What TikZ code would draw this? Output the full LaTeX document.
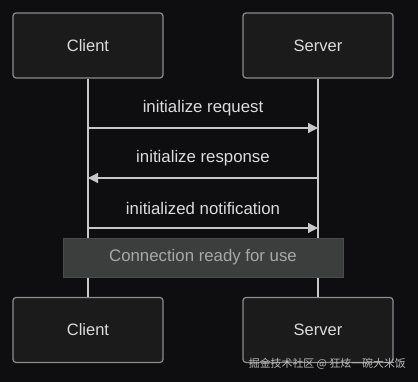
\documentclass[tikz,border=0pt]{standalone}
\usepackage{fontspec}
\setmainfont{Liberation Sans}
\newfontfamily\cjkfont{Noto Sans CJK SC}
\usetikzlibrary{arrows.meta}
\definecolor{bg}{HTML}{0E0E10}
\definecolor{boxfill}{HTML}{1B1B1C}
\definecolor{boxline}{HTML}{8C8C8C}
\definecolor{txt}{HTML}{DCDCDC}
\definecolor{lifel}{HTML}{C8C8C8}
\definecolor{notefill}{HTML}{3C3E3E}
\definecolor{noteline}{HTML}{4A4C4C}
\definecolor{notetxt}{HTML}{A8A8A8}
\tikzset{
  actor/.style={draw=boxline, fill=boxfill, line width=1.2pt, rounded corners=3pt,
    minimum width=150pt, minimum height=65pt, text=txt, font=\fontsize{16.5}{20}\selectfont, inner sep=0pt},
  lifeline/.style={draw=lifel, line width=1.3pt},
  msg/.style={draw=lifel, line width=1.3pt, -{Triangle[length=10pt,width=10pt]}},
  msglabel/.style={text=txt, font=\fontsize{16.8}{20}\selectfont, inner sep=0pt},
  notebox/.style={draw=noteline, fill=notefill, line width=0.8pt, minimum width=280pt,
    minimum height=39pt, text=notetxt, font=\fontsize{16.8}{20}\selectfont, inner sep=0pt},
}
\begin{document}
\begin{tikzpicture}[x=1pt,y=-1pt]
\fill[bg] (0,0) rectangle (418,382);
\useasboundingbox (0,0) rectangle (418,382);
\node[actor] (c1) at (88,45.5) {Client};
\node[actor] (s1) at (318,45.5) {Server};
\node[actor] (c2) at (88,330) {Client};
\node[actor] (s2) at (318,330) {Server};
\draw[lifeline] (c1.south) -- (c2.north);
\draw[lifeline] (s1.south) -- (s2.north);
\coordinate (cA) at (88,128); \coordinate (sA) at (318,128);
\coordinate (cB) at (88,178); \coordinate (sB) at (318,178);
\coordinate (cC) at (88,228); \coordinate (sC) at (318,228);
\draw[msg] (cA) -- (sA);
\draw[msg] (sB) -- (cB);
\draw[msg] (cC) -- (sC);
\node[msglabel] (l1) at (203,108.5) {initialize request};
\node[msglabel] (l2) at (203,158.5) {initialize response};
\node[msglabel] (l3) at (203,208.5) {initialized notification};
\node[notebox] (note) at (203,257.5) {\raisebox{-1pt}{Connection ready for use}};
\node[text=txt!85!black, font=\cjkfont\fontsize{10.9}{13}\selectfont, inner sep=0pt, anchor=east] (wm) at (406,364) {掘金技术社区 @ 狂炫一碗大米饭};
\end{tikzpicture}
\end{document}
